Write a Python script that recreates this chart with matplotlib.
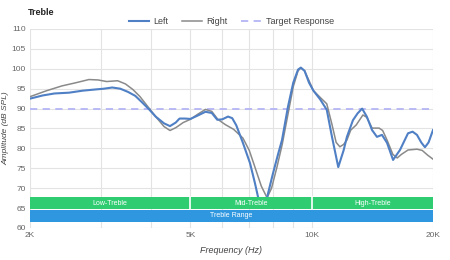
import matplotlib
matplotlib.use("Agg")
import matplotlib.pyplot as plt

plt.rcParams['font.family'] = ['Liberation Sans', 'DejaVu Sans']

# measured response, frequency in Hz and level in dB SPL
left_freq = [2000, 2150, 2300, 2500, 2700, 2900, 3050, 3200, 3350, 3500, 3650, 3800,
             3950, 4100, 4300, 4450, 4600, 4700, 4850, 5000, 5200, 5450, 5650, 5830,
             6000, 6200, 6350, 6500, 6750, 7030, 7230, 7360, 7530, 7700, 7850, 8020,
             8250, 8440, 8730, 9000, 9250, 9400, 9600, 9850, 10100, 10500, 10900,
             11230, 11640, 12000, 12230, 12660, 13000, 13340, 13700, 14120, 14520,
             14940, 15380, 15920, 16560, 17340, 17800, 18250, 18700, 19100, 19500, 20000]
left_db = [92.5, 93.3, 93.8, 94.0, 94.5, 94.8, 95.0, 95.3, 95.0, 94.2, 93.2, 91.5,
           89.8, 88.0, 86.3, 85.6, 86.5, 87.5, 87.5, 87.4, 88.2, 89.2, 88.9, 87.2,
           87.3, 88.0, 87.6, 85.8, 81.4, 76.3, 71.3, 67.8, 65.0, 66.5, 70.0, 73.8,
           78.5, 82.1, 90.4, 96.5, 99.8, 100.3, 99.5, 96.5, 94.5, 92.3, 89.7,
           82.9, 75.3, 79.5, 82.9, 87.1, 88.8, 90.0, 88.0, 84.6, 82.9,
           83.4, 81.4, 77.1, 79.6, 83.8, 84.2, 83.4, 81.5, 80.3, 81.5, 84.6]

right_freq = [2000, 2200, 2400, 2600, 2800, 2950, 3100, 3300, 3450, 3600, 3750, 3900,
              4100, 4300, 4450, 4600, 4800, 5000, 5200, 5450, 5650, 5850, 6100, 6400,
              6750, 7000, 7230, 7500, 7750, 7950, 8200, 8450, 8730, 9000, 9250, 9400,
              9600, 9850, 10100, 10500, 10900, 11230, 11500, 11750, 12000, 12230,
              12500, 12900, 13400, 13700, 14120, 14700, 15000, 15380, 15900, 16300,
              16700, 17340, 18250, 18800, 19400, 20000]
right_db = [93.0, 94.5, 95.7, 96.5, 97.3, 97.2, 96.8, 97.0, 96.2, 94.8, 93.0, 90.8,
            88.0, 85.5, 84.5, 85.2, 86.5, 87.3, 88.5, 89.8, 89.3, 87.3, 86.0, 84.8,
            82.6, 79.5, 75.3, 70.5, 67.6, 70.0, 75.3, 81.0, 88.5, 95.5, 99.5, 100.2,
            99.5, 97.0, 94.5, 92.8, 91.2, 86.0, 81.5, 80.4, 81.0, 82.1,
            84.6, 85.9, 88.4, 87.8, 85.1, 85.1, 84.5, 82.1, 78.5, 77.6,
            78.5, 79.6, 79.8, 79.5, 78.3, 77.3]

target_db = 90

band_names = ['Low-Treble', 'Mid-Treble', 'High-Treble']
band_edges = [2000, 5000, 10000, 20000]
range_name = 'Treble Range'

x_ticks = [2000, 5000, 10000, 20000]
x_ticklabels = ['2K', '5K', '10K', '20K']
x_grid = [2000, 3000, 4000, 5000, 6000, 7000, 8000, 9000, 10000, 20000]
y_ticks = list(range(60, 111, 5))

fig = plt.figure(figsize=(4.5, 2.6), dpi=100)
ax = fig.add_axes([30 / 450, 1 - 228 / 260, 403 / 450, 199 / 260])

ax.set_xscale('log')
ax.set_xlim(2000, 20000)
ax.set_ylim(60, 110)

for f in x_grid:
    ax.axvline(f, color='#e3e3e3', lw=0.8, zorder=0)
for v in y_ticks:
    ax.axhline(v, color='#e3e3e3', lw=0.8, zorder=0)

# frequency bands along the bottom
for i, name in enumerate(band_names):
    ax.fill_between([band_edges[i], band_edges[i + 1]], 64.8, 67.7,
                    color='#30cc72', lw=0, zorder=3)
    mid = (band_edges[i] * band_edges[i + 1]) ** 0.5
    ax.text(mid, 66.25, name, color='white', fontsize=5, ha='center',
            va='center', zorder=4)
for e in band_edges[1:-1]:
    ax.plot([e, e], [64.8, 67.7], color='white', lw=1.2, zorder=4)
ax.fill_between([band_edges[0], band_edges[-1]], 61.6, 64.5,
                color='#2e97e0', lw=0, zorder=3)
ax.text((band_edges[0] * band_edges[-1]) ** 0.5, 63.05, range_name, color='white',
        fontsize=5, ha='center', va='center', zorder=4)

ax.axhline(target_db, color='#b4b4f5', lw=1.3, ls=(0, (4, 3)), zorder=1,
           label='Target Response')
ax.plot(right_freq, right_db, color='#8a8a8a', lw=1.1, zorder=2, label='Right')
ax.plot(left_freq, left_db, color='#4f7fc4', lw=1.5, zorder=2, label='Left')

ax.set_xticks(x_ticks)
ax.set_xticklabels(x_ticklabels)
ax.xaxis.set_minor_locator(matplotlib.ticker.NullLocator())
ax.set_yticks(y_ticks)
ax.tick_params(length=0, labelsize=6, colors='#666666', pad=3)
for s in ax.spines.values():
    s.set_visible(False)

ax.set_xlabel('Frequency (Hz)', fontsize=6.5, style='italic', color='#444444', labelpad=5)
ax.set_ylabel('Amplitude (dB SPL)', fontsize=6, style='italic', color='#444444')
ax.yaxis.set_label_coords(-0.05, 0.5)

handles, labels = ax.get_legend_handles_labels()
order = [2, 1, 0]
leg = ax.legend([handles[i] for i in order], [labels[i] for i in order],
                loc='lower center', bbox_to_anchor=(0.5, 0.985), ncol=3, frameon=False,
                fontsize=6.5, handlelength=2.2, columnspacing=1.5, borderpad=0.2,
                handletextpad=0.5, labelcolor='#444444')

fig.text(28 / 450, 1 - 12 / 260, 'Treble', fontsize=6.5, fontweight='bold',
         color='#222222', va='center')

fig.savefig('out.png', dpi=100)
